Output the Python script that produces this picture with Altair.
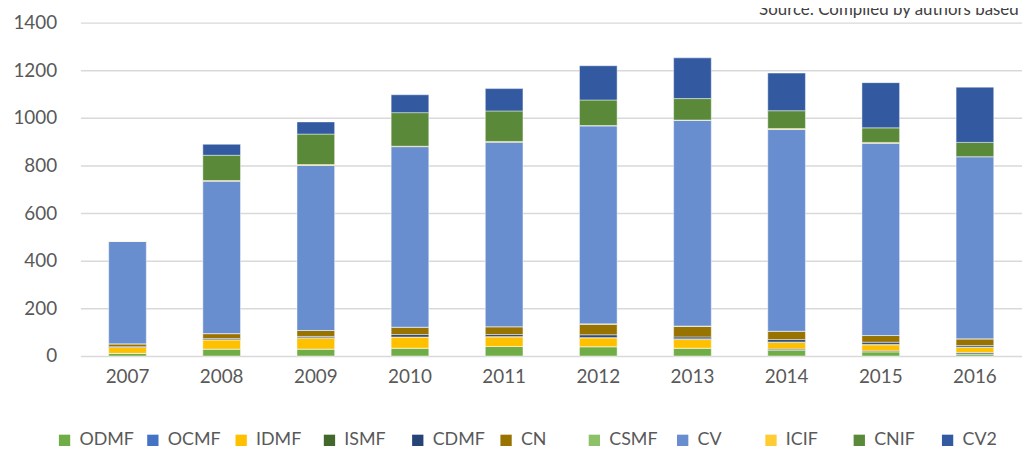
import altair as alt
import pandas as pd

years = ["2007", "2008", "2009", "2010", "2011", "2012", "2013", "2014", "2015", "2016"]

series_names = ["ODMF", "OCMF", "IDMF", "ISMF", "CDMF", "CN", "CSMF", "CV", "ICIF", "CNIF", "CV2"]
series_colors = ["#70AD47", "#4472C4", "#FFC000", "#43682B", "#264478", "#997300",
                 "#8CC168", "#698ED0", "#FFCD33", "#5A8A39", "#335AA1"]

ODMF = [11, 29, 29, 33, 40, 39, 33, 24, 17, 7]
OCMF = [0, 0, 0, 0, 0, 0, 0, 5, 4, 7]
IDMF = [25, 39, 46, 47, 40, 37, 36, 28, 26, 22]
ISMF = [0, 0, 2, 0, 2, 2, 3, 2, 2, 2]
CDMF = [3, 5, 5, 10, 8, 11, 8, 10, 9, 6]
CN = [12, 21, 25, 31, 33, 44, 44, 35, 28, 28]
CSMF = [0, 0, 0, 0, 0, 2, 2, 0, 0, 0]
CV = [430, 640, 693, 758, 775, 831, 864, 847, 807, 765]
ICIF = [2, 3, 4, 2, 3, 2, 1, 4, 4, 0]
CNIF = [0, 106, 128, 141, 128, 107, 90, 75, 61, 60]
CV2 = [0, 46, 51, 75, 94, 144, 171, 158, 190, 232]

y_ticks = [0, 200, 400, 600, 800, 1000, 1200, 1400]
source_text = "Source: Compiled by authors based"

series_values = [ODMF, OCMF, IDMF, ISMF, CDMF, CN, CSMF, CV, ICIF, CNIF, CV2]

rows = []
for si, (name, vals) in enumerate(zip(series_names, series_values)):
    for yr, v in zip(years, vals):
        rows.append({"year": yr, "series": name, "value": v, "order": si})
df = pd.DataFrame(rows)

FONT = "Lato"
GRAY = "#595959"

bars = alt.Chart(df).mark_bar(
    stroke="#FFFFFF", strokeWidth=0.75, strokeOpacity=0.6
).encode(
    x=alt.X("year:N", sort=years, title=None,
            scale=alt.Scale(paddingInner=0.6, paddingOuter=0.3),
            axis=alt.Axis(labelAngle=0, domain=False, ticks=False, labelFont=FONT,
                          labelFontSize=19, labelColor=GRAY, labelPadding=12)),
    y=alt.Y("value:Q", stack="zero", title=None,
            scale=alt.Scale(domain=[0, 1400], nice=False),
            axis=alt.Axis(values=y_ticks, format="d", domain=False, ticks=False, grid=True,
                          gridColor="#D9D9D9", gridWidth=1.5, labelFont=FONT,
                          labelFontSize=19, labelColor=GRAY, labelPadding=24)),
    color=alt.Color("series:N", sort=series_names,
                    scale=alt.Scale(domain=series_names, range=series_colors),
                    legend=alt.Legend(orient="none", legendX=-25, legendY=412,
                                      direction="horizontal", columns=11, title=None,
                                      symbolType="square", symbolSize=130,
                                      symbolStrokeWidth=0, labelFont=FONT,
                                      labelFontSize=18, labelColor=GRAY,
                                      labelOffset=6, columnPadding=10,
                                      gridAlign="all")),
    order=alt.Order("order:Q", sort="ascending"),
)

src_df = pd.DataFrame({"t": [source_text]})
source = alt.Chart(src_df).mark_text(
    align="left", baseline="alphabetic", font=FONT, fontSize=17, color="#404040"
).encode(x=alt.value(684), y=alt.value(-8), text="t:N")

chart = alt.layer(bars, source).properties(
    width=949, height=336,
    autosize=alt.AutoSizeParams(type="none"),
    padding={"left": 73, "top": 13, "right": 0, "bottom": 92},
).configure_view(stroke=None)

chart.save("out.html", embed_options={"renderer": "svg", "actions": False})
